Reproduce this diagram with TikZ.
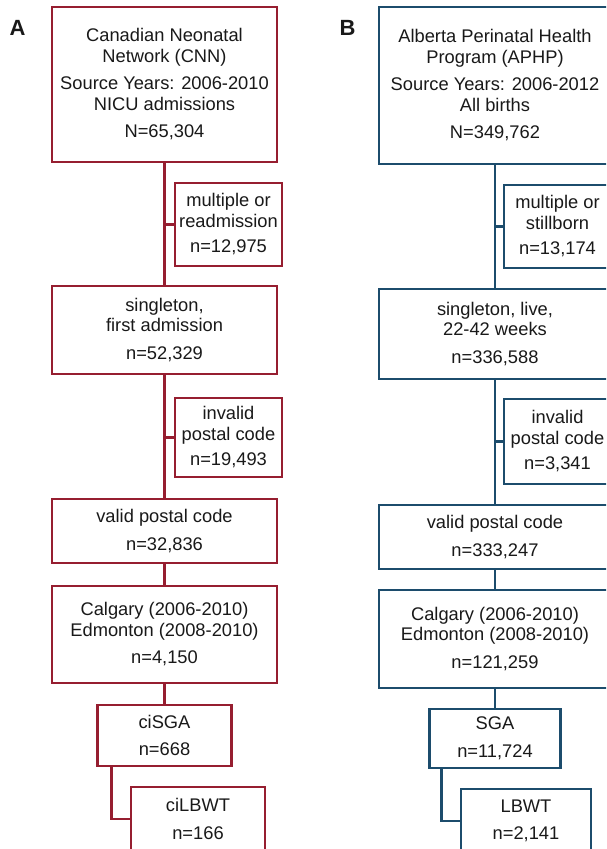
\documentclass[tikz,border=0pt]{standalone}
\usepackage{fontspec}
\setmainfont{Liberation Sans}
\definecolor{cnnred}{RGB}{150,30,48}
\definecolor{aphpblue}{RGB}{28,76,108}

\begin{document}
\begin{tikzpicture}[x=1pt, y=-1pt,
	every node/.style={font=\fontsize{18.3}{20.5}\selectfont, text=black!90, align=center, inner sep=0pt},
	box/.style={draw=#1, line width=2.8pt, fill=white},
	link/.style={draw=#1, line width=2.8pt}]
	\path[use as bounding box, clip] (0,0) rectangle (606,849);
	% panel A
	\node[font=\fontsize{22}{22}\selectfont\bfseries] (labA) at (17.5,28) {A};
	\node[box=cnnred, minimum width=225pt, minimum height=155pt] (cnn) at (164.5,84.5) {Canadian Neonatal\\Network (CNN)\\[7pt]Source Years: 2006-2010\\NICU admissions\\[7pt]N=65,304};
	\node[box=cnnred, minimum width=107pt, minimum height=83pt] (exA1) at (228.5,224.5) {multiple or\\readmission\\[5pt]n=12,975};
	\node[box=cnnred, minimum width=225pt, minimum height=88pt] (sgA) at (164.5,330) {singleton,\\first admission\\[7pt]n=52,329};
	\node[box=cnnred, minimum width=107pt, minimum height=79pt] (exA2) at (228.5,437.5) {invalid\\postal code\\[5pt]n=19,493};
	\node[box=cnnred, minimum width=225pt, minimum height=64pt] (vpA) at (164.5,531) {valid postal code\\[7pt]n=32,836};
	\node[box=cnnred, minimum width=225pt, minimum height=97pt] (calA) at (164.5,634.5) {Calgary (2006-2010)\\Edmonton (2008-2010)\\[7pt]n=4,150};
	\node[box=cnnred, minimum width=134pt, minimum height=61pt] (sgaA) at (164.5,735.5) {ciSGA\\[7pt]n=668};
	\node[box=cnnred, minimum width=134pt, minimum height=64pt] (lbwA) at (198,819) {ciLBWT\\[7pt]n=166};
	\draw[link=cnnred] (cnn.south) -- (sgA.north);
	\draw[link=cnnred] (sgA.south) -- (vpA.north);
	\draw[link=cnnred] (vpA.south) -- (calA.north);
	\draw[link=cnnred] (calA.south) -- (sgaA.north);
	\draw[link=cnnred] (cnn.south |- exA1.west) -- (exA1.west);
	\draw[link=cnnred] (sgA.south |- exA2.west) -- (exA2.west);
	\draw[link=cnnred] ([xshift=15pt]sgaA.south west) |- (lbwA.west);
	% panel B
	\node[font=\fontsize{22}{22}\selectfont\bfseries] (labB) at (347.5,28) {B};
	\node[box=aphpblue, minimum width=232pt, minimum height=157pt] (aphp) at (495,85.5) {Alberta Perinatal Health\\Program (APHP)\\[7pt]Source Years: 2006-2012\\All births\\[7pt]N=349,762};
	\node[box=aphpblue, minimum width=107pt, minimum height=83pt] (exB1) at (557.5,226.5) {multiple or\\stillborn\\[5pt]n=13,174};
	\node[box=aphpblue, minimum width=232pt, minimum height=90pt] (sgB) at (495,334) {singleton, live,\\22-42 weeks\\[7pt]n=336,588};
	\node[box=aphpblue, minimum width=107pt, minimum height=85pt] (exB2) at (557.5,441.5) {invalid\\postal code\\[5pt]n=3,341};
	\node[box=aphpblue, minimum width=232pt, minimum height=64pt] (vpB) at (495,537) {valid postal code\\[7pt]n=333,247};
	\node[box=aphpblue, minimum width=232pt, minimum height=98pt] (calB) at (495,639) {Calgary (2006-2010)\\Edmonton (2008-2010)\\[7pt]n=121,259};
	\node[box=aphpblue, minimum width=131pt, minimum height=59pt] (sgaB) at (495,738.5) {SGA\\[7pt]n=11,724};
	\node[box=aphpblue, minimum width=130pt, minimum height=64pt] (lbwB) at (526,821) {LBWT\\[7pt]n=2,141};
	\draw[link=aphpblue] (aphp.south) -- (sgB.north);
	\draw[link=aphpblue] (sgB.south) -- (vpB.north);
	\draw[link=aphpblue] (vpB.south) -- (calB.north);
	\draw[link=aphpblue] (calB.south) -- (sgaB.north);
	\draw[link=aphpblue] (aphp.south |- exB1.west) -- (exB1.west);
	\draw[link=aphpblue] (sgB.south |- exB2.west) -- (exB2.west);
	\draw[link=aphpblue] ([xshift=13pt]sgaB.south west) |- (lbwB.west);
\end{tikzpicture}
\end{document}
